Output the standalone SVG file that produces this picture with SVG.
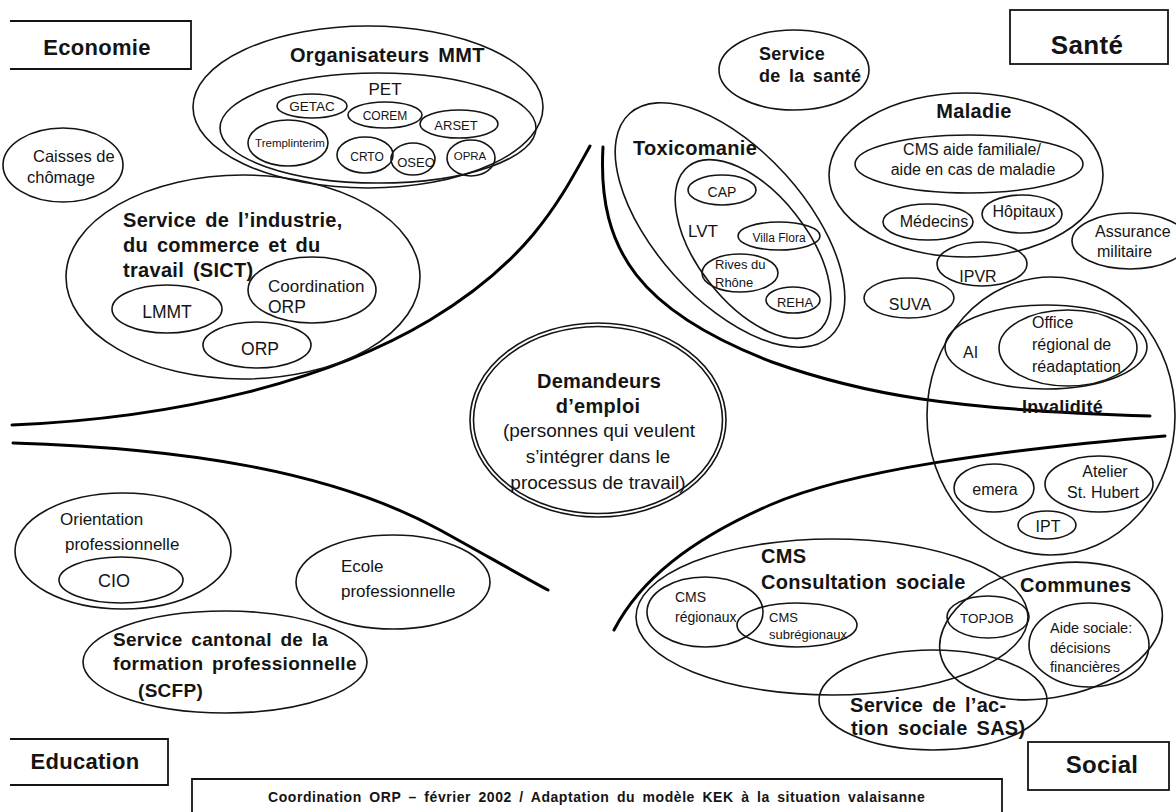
<svg xmlns="http://www.w3.org/2000/svg" width="1176" height="812" viewBox="0 0 1176 812">
<style>
.e{fill:none;stroke:#141414;stroke-width:1.6}
.box{fill:none;stroke:#141414;stroke-width:1.8}
.sep{fill:none;stroke:#000;stroke-width:3;stroke-linecap:round}
text{font-family:"Liberation Sans",Arial,Helvetica,sans-serif;fill:#141414}
.b{font-weight:bold;letter-spacing:0.3px;word-spacing:3px}
.m{text-anchor:middle}
</style>
<rect width="1176" height="812" fill="#fff"/>

<g id="separators">
<path class="sep" d="M12,425 C180,418 330,380 430,320 C530,260 560,200 590,146"/>
<path class="sep" d="M13,443 C180,448 330,470 440,530 C480,552 520,575 548,590"/>
<path class="sep" d="M603,147 C597,252 642,312 772,362 C862,394 950,410 1150,416"/>
<path class="sep" d="M1165,436 C1000,450 850,470 770,505 C690,540 640,580 614,630"/>
</g>

<g id="economie">
<path class="box" d="M10,21 H191 V69 H10"/>
<text class="b m" x="97" y="55" font-size="22">Economie</text>
</g>
<g id="sante">
<rect class="box" x="1010" y="10" width="158" height="54"/>
<text class="b m" x="1087" y="54" font-size="26">Santé</text>
</g>
<g id="education">
<path class="box" d="M10,739 H168 V785 H10"/>
<text class="b m" x="85" y="769" font-size="22">Education</text>
</g>
<g id="social">
<rect class="box" x="1028" y="742" width="141" height="48"/>
<text class="b m" x="1102" y="773" font-size="24">Social</text>
</g>
<g id="footer">
<path class="box" d="M192,812 V779 H1002 V812"/>
<text class="b" x="268" y="802" font-size="14" textLength="657" lengthAdjust="spacing">Coordination ORP – février 2002 / Adaptation du modèle KEK à la situation valaisanne</text>
</g>

<g id="organisateurs">
<ellipse class="e" cx="368" cy="107" rx="175" ry="81"/>
<text class="b" x="290" y="62" font-size="20">Organisateurs  MMT</text>
</g>
<g id="pet">
<ellipse class="e" cx="378" cy="128" rx="158" ry="55"/>
<text class="m" x="385" y="95" font-size="17">PET</text>
</g>
<g id="getac"><ellipse class="e" cx="312" cy="106" rx="35" ry="12"/><text class="m" x="312" y="111" font-size="13.5">GETAC</text></g>
<g id="corem"><ellipse class="e" cx="385" cy="115" rx="37" ry="13"/><text class="m" x="385" y="120" font-size="12">COREM</text></g>
<g id="arset"><ellipse class="e" cx="459" cy="124" rx="39" ry="14"/><text class="m" x="456" y="130" font-size="13">ARSET</text></g>
<g id="tremplinterim"><ellipse class="e" cx="288" cy="143" rx="40" ry="23"/><text class="m" x="290" y="147" font-size="11.5">Tremplinterim</text></g>
<g id="crto"><ellipse class="e" cx="365" cy="155" rx="28" ry="18"/><text class="m" x="367" y="161" font-size="12">CRTO</text></g>
<g id="oseo"><ellipse class="e" cx="413" cy="159" rx="22" ry="16"/><text class="m" x="416" y="167" font-size="13">OSEO</text></g>
<g id="opra"><ellipse class="e" cx="471" cy="158" rx="24" ry="18"/><text class="m" x="470" y="160" font-size="11.5">OPRA</text></g>

<g id="caisses">
<ellipse class="e" cx="63" cy="165" rx="60" ry="37"/>
<text x="33" y="162" font-size="16.5">Caisses de</text>
<text x="27" y="183" font-size="16.5">chômage</text>
</g>

<g id="sict">
<ellipse class="e" cx="243" cy="277" rx="177" ry="102"/>
<text class="b" x="123" y="227" font-size="20">Service de l’industrie,</text>
<text class="b" x="123" y="252" font-size="20">du commerce et du</text>
<text class="b" x="123" y="277" font-size="20">travail  (SICT)</text>
</g>
<g id="coordination-orp"><ellipse class="e" cx="312" cy="290" rx="64" ry="33"/><text x="268" y="292" font-size="17">Coordination</text><text x="268" y="313" font-size="17.5">ORP</text></g>
<g id="lmmt"><ellipse class="e" cx="167" cy="309" rx="55" ry="24"/><text class="m" x="167" y="318" font-size="17.5">LMMT</text></g>
<g id="orp"><ellipse class="e" cx="257" cy="345" rx="54" ry="23"/><text class="m" x="260" y="355" font-size="17.5">ORP</text></g>

<g id="service-sante">
<ellipse class="e" cx="794" cy="70" rx="75" ry="40"/>
<text class="b" x="759" y="60" font-size="18">Service</text>
<text class="b" x="759" y="82" font-size="18">de la santé</text>
</g>

<g id="toxicomanie">
<ellipse class="e" cx="730" cy="225" rx="150" ry="75" transform="rotate(48 730 225)"/>
<text class="b" x="633" y="155" font-size="20">Toxicomanie</text>
</g>
<g id="lvt">
<ellipse class="e" cx="753" cy="249" rx="105" ry="55" transform="rotate(52 753 249)"/>
<text x="688" y="237" font-size="17">LVT</text>
</g>
<g id="cap"><ellipse class="e" cx="722" cy="190" rx="34" ry="15"/><text class="m" x="722" y="197" font-size="14">CAP</text></g>
<g id="villa-flora"><ellipse class="e" cx="779" cy="236" rx="41" ry="14"/><text class="m" x="779" y="242" font-size="12">Villa Flora</text></g>
<g id="rives"><ellipse class="e" cx="740" cy="273" rx="38" ry="19"/><text x="715" y="269" font-size="13">Rives du</text><text x="715" y="287" font-size="13">Rhône</text></g>
<g id="reha"><ellipse class="e" cx="793" cy="300" rx="27" ry="13"/><text class="m" x="795" y="307" font-size="13">REHA</text></g>

<g id="maladie">
<ellipse class="e" cx="966" cy="175" rx="137" ry="82"/>
<text class="b m" x="974" y="118" font-size="20">Maladie</text>
</g>
<g id="cms-aide"><ellipse class="e" cx="969" cy="164" rx="114" ry="29"/><text class="m" x="972" y="155" font-size="16">CMS aide familiale/</text><text class="m" x="973" y="175" font-size="16">aide en cas de maladie</text></g>
<g id="medecins"><ellipse class="e" cx="928" cy="222" rx="45" ry="18"/><text class="m" x="934" y="227" font-size="16">Médecins</text></g>
<g id="hopitaux"><ellipse class="e" cx="1022" cy="214" rx="40" ry="19"/><text class="m" x="1024" y="217" font-size="16">Hôpitaux</text></g>
<g id="assurance-militaire"><ellipse class="e" cx="1130" cy="241" rx="58" ry="28"/><text x="1095" y="237" font-size="16">Assurance</text><text x="1097" y="257" font-size="16">militaire</text></g>
<g id="ipvr"><ellipse class="e" cx="982" cy="264" rx="45" ry="22"/><text class="m" x="978" y="282" font-size="16">IPVR</text></g>
<g id="suva"><ellipse class="e" cx="909" cy="298" rx="45" ry="20"/><text class="m" x="910" y="310" font-size="16">SUVA</text></g>

<g id="invalidite">
<ellipse class="e" cx="1051" cy="416" rx="124" ry="139"/>
<text class="b" x="1022" y="413" font-size="18">Invalidité</text>
</g>
<g id="ai"><ellipse class="e" cx="1046" cy="347" rx="101" ry="42"/><text x="963" y="358" font-size="16">AI</text></g>
<g id="office"><ellipse class="e" cx="1068" cy="348" rx="69" ry="38"/><text x="1032" y="328" font-size="16">Office</text><text x="1032" y="350" font-size="16">régional de</text><text x="1032" y="372" font-size="16">réadaptation</text></g>
<g id="emera"><ellipse class="e" cx="994" cy="488" rx="40" ry="24"/><text class="m" x="995" y="495" font-size="16">emera</text></g>
<g id="atelier"><ellipse class="e" cx="1099" cy="484" rx="54" ry="28"/><text class="m" x="1105" y="477" font-size="16">Atelier</text><text class="m" x="1103" y="498" font-size="16">St. Hubert</text></g>
<g id="ipt"><ellipse class="e" cx="1047" cy="525" rx="29" ry="14"/><text class="m" x="1048" y="532" font-size="16">IPT</text></g>

<g id="demandeurs">
<ellipse class="e" cx="598" cy="420" rx="128" ry="97"/>
<ellipse class="e" cx="598" cy="420" rx="124.5" ry="93.5"/>
<text class="b m" x="599" y="388" font-size="20">Demandeurs</text>
<text class="b m" x="598" y="413" font-size="20">d’emploi</text>
<text class="m" x="599" y="437" font-size="19">(personnes qui veulent</text>
<text class="m" x="598" y="463" font-size="19">s’intégrer dans le</text>
<text class="m" x="598" y="489" font-size="19">processus de travail)</text>
</g>

<g id="orientation"><ellipse class="e" cx="123" cy="551" rx="108" ry="58"/><text x="60" y="525" font-size="17">Orientation</text><text x="65" y="550" font-size="17">professionnelle</text></g>
<g id="cio"><ellipse class="e" cx="121" cy="580" rx="62" ry="23"/><text class="m" x="114" y="587" font-size="18">CIO</text></g>
<g id="ecole"><ellipse class="e" cx="393" cy="582" rx="97" ry="47"/><text x="341" y="572" font-size="17">Ecole</text><text x="341" y="597" font-size="17">professionnelle</text></g>
<g id="scfp"><ellipse class="e" cx="225" cy="662" rx="142" ry="51"/><text class="b" x="113" y="646" font-size="19">Service cantonal de la</text><text class="b" x="113" y="670" font-size="19">formation professionnelle</text><text class="b" x="138" y="697" font-size="19">(SCFP)</text></g>

<g id="cms">
<ellipse class="e" cx="832" cy="617" rx="196" ry="78"/>
<text class="b" x="761" y="563" font-size="20">CMS</text>
<text class="b" x="761" y="589" font-size="20">Consultation sociale</text>
</g>
<g id="cms-regionaux"><ellipse class="e" cx="705" cy="612" rx="58" ry="35"/><text x="675" y="602" font-size="14">CMS</text><text x="675" y="622" font-size="14">régionaux</text></g>
<g id="cms-subregionaux"><ellipse class="e" cx="797" cy="625" rx="60" ry="22"/><text x="769" y="622" font-size="13">CMS</text><text x="769" y="639" font-size="13">subrégionaux</text></g>
<g id="communes"><ellipse class="e" cx="1051" cy="631" rx="113" ry="66" transform="rotate(-12 1051 631)"/><text class="b" x="1020" y="592" font-size="20">Communes</text></g>
<g id="topjob"><ellipse class="e" cx="988" cy="617" rx="41" ry="21"/><text class="m" x="987" y="623" font-size="13.5">TOPJOB</text></g>
<g id="aide-sociale"><ellipse class="e" cx="1089" cy="645" rx="60" ry="42"/><text x="1050" y="633" font-size="14.5">Aide sociale:</text><text x="1050" y="653" font-size="14.5">décisions</text><text x="1050" y="672" font-size="14.5">financières</text></g>
<g id="sas"><ellipse class="e" cx="933" cy="700" rx="114" ry="50"/><text class="b" x="850" y="712" font-size="20">Service de l’ac-</text><text class="b" x="851" y="735" font-size="20">tion sociale SAS)</text></g>
</svg>
